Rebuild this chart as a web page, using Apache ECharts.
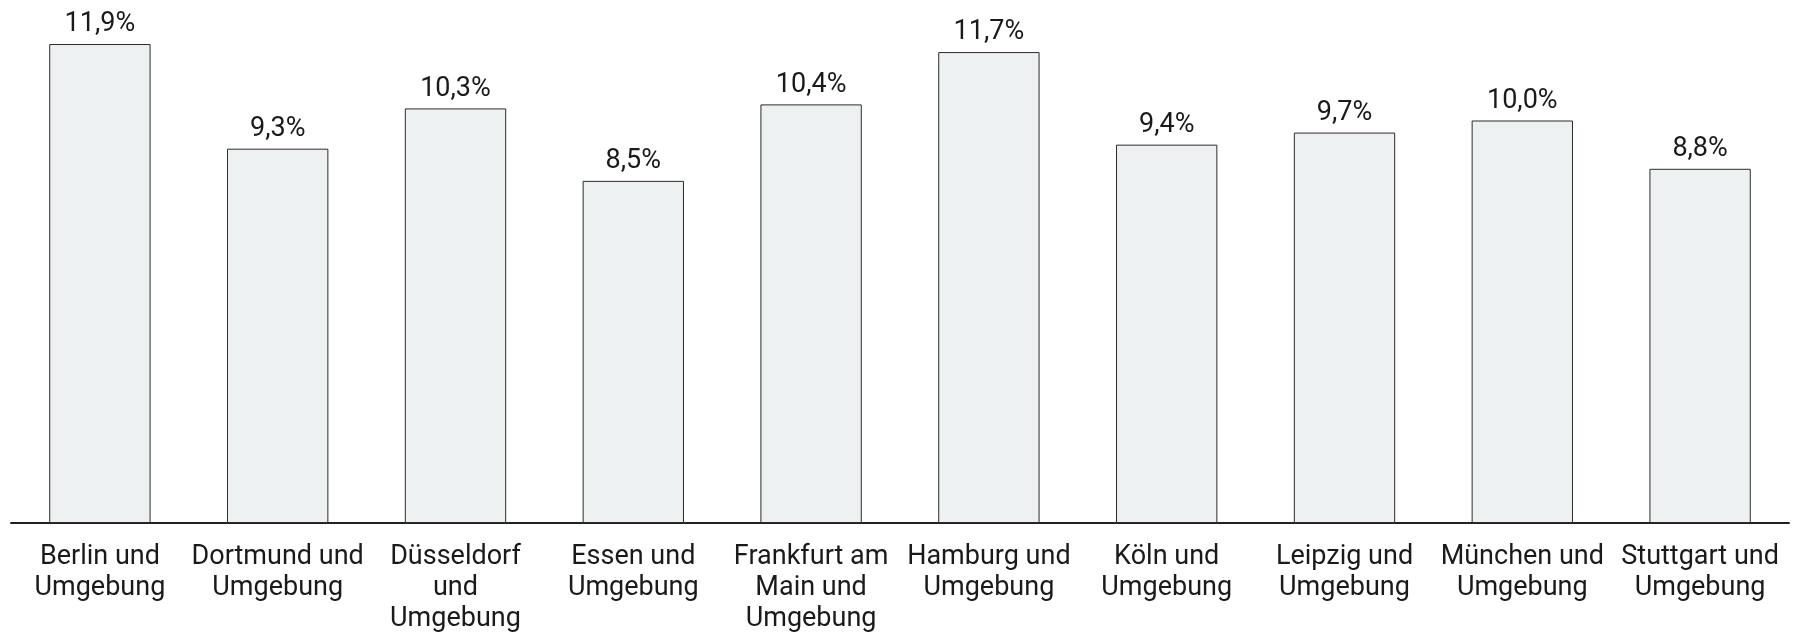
<!DOCTYPE html>
<html>
<head>
<meta charset="utf-8">
<script src="https://cdn.jsdelivr.net/npm/echarts@6/dist/echarts.min.js"></script>
<style>
  html, body { margin: 0; padding: 0; background: #fff; }
  #chart { width: 1798px; height: 636px; }
</style>
</head>
<body>
<div id="chart"></div>
<script>
// Regions (axis labels with their line breaks) and share values in percent
const categories = [
  'Berlin und\nUmgebung',
  'Dortmund und\nUmgebung',
  'Düsseldorf\nund\nUmgebung',
  'Essen und\nUmgebung',
  'Frankfurt am\nMain und\nUmgebung',
  'Hamburg und\nUmgebung',
  'Köln und\nUmgebung',
  'Leipzig und\nUmgebung',
  'München und\nUmgebung',
  'Stuttgart und\nUmgebung'
];
const values = [11.9, 9.3, 10.3, 8.5, 10.4, 11.7, 9.4, 9.7, 10.0, 8.8];

const chart = echarts.init(document.getElementById('chart'), null, { renderer: 'canvas' });

const fmt = v => v.toFixed(1).replace('.', ',') + '%';

chart.setOption({
  animation: false,
  textStyle: { fontFamily: 'Roboto' },
  grid: { left: 11, right: 9, top: 40, bottom: 113, containLabel: false },
  xAxis: {
    type: 'category',
    data: categories,
    axisLine: { show: true, lineStyle: { color: '#222', width: 2 } },
    axisTick: { show: false },
    axisLabel: {
      interval: 0,
      color: '#1a1a1a',
      fontSize: 27,
      lineHeight: 31,
      margin: 19,
      fontFamily: 'Roboto'
    }
  },
  yAxis: {
    type: 'value',
    min: 0,
    max: 12,
    show: false,
    splitLine: { show: false }
  },
  series: [{
    type: 'bar',
    data: values,
    barWidth: '57%',
    itemStyle: { color: '#eef1f2', borderColor: '#2b2b2b', borderWidth: 1 },
    label: {
      show: true,
      position: 'top',
      distance: 6,
      color: '#1a1a1a',
      fontSize: 27,
      fontFamily: 'Roboto',
      formatter: p => fmt(p.value)
    }
  }]
});
</script>
</body>
</html>
